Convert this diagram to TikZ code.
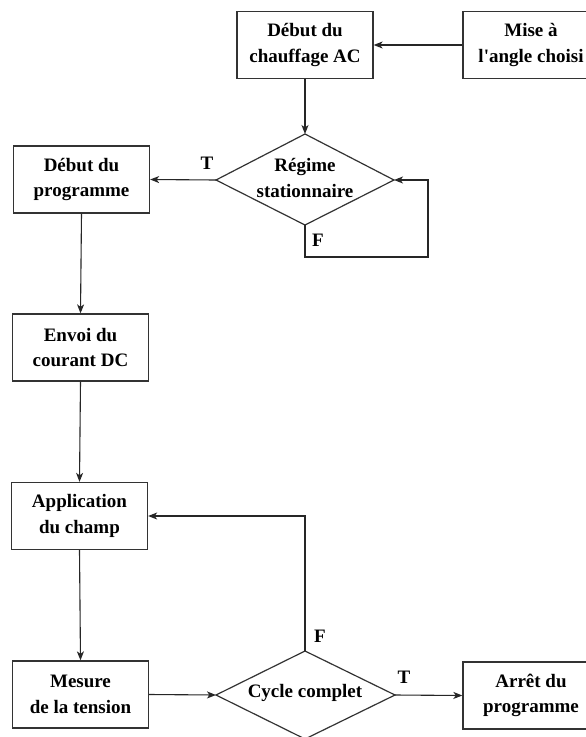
\documentclass[tikz,border=0pt]{standalone}
\usepackage{fontspec}
\setmainfont{Liberation Serif}[Ligatures=TeXOff]
\usetikzlibrary{arrows.meta}

\tikzset{
  stepbox/.style={draw=black!80, line width=1.3pt, rectangle, minimum width=136pt,
    minimum height=67pt, inner sep=0pt, align=center,
    font=\bfseries\fontsize{19}{25.5}\selectfont},
  decision/.style={draw=black!80, line width=1.2pt},
  decisiontext/.style={inner sep=0pt, align=center,
    font=\bfseries\fontsize{19}{25.5}\selectfont},
  flow/.style={draw=black!85, line width=1.1pt,
    -{Stealth[length=9pt,width=7pt,inset=2.5pt]}},
  branch/.style={font=\bfseries\fontsize{19}{22}\selectfont, inner sep=0pt}
}

\begin{document}
\begin{tikzpicture}[x=1pt, y=-1pt]
\useasboundingbox (0,0) rectangle (586,737);
\clip (0,0) rectangle (586,737);
\fill[white] (0,0) rectangle (586,737);

% process boxes
\node[stepbox] (chauffage) at (305,45) {Début du\\chauffage AC};
\node[stepbox] (mise) at (531,45) {Mise à\\l'angle choisi};
\node[stepbox] (prog) at (81.5,179.5) {Début du\\programme};
\node[stepbox] (envoi) at (80.5,347.5) {Envoi du\\courant DC};
\node[stepbox] (app) at (79.5,516) {Application\\du champ};
\node[stepbox] (mesure) at (80.5,694.5) {Mesure\\de la tension};
\node[stepbox] (arret) at (531,695.5) {Arrêt du\\programme};

% decision: steady state
\coordinate (regime-n) at (305,134);
\coordinate (regime-e) at (394,180);
\coordinate (regime-s) at (305,225);
\coordinate (regime-w) at (216,180);
\draw[decision] (regime-n) -- (regime-e) -- (regime-s) -- (regime-w) -- cycle;
\node[decisiontext] (regime) at (305,178) {Régime\\stationnaire};

% decision: full cycle
\coordinate (cycle-n) at (305,651);
\coordinate (cycle-e) at (395,695);
\coordinate (cycle-s) at (305,739);
\coordinate (cycle-w) at (216,695);
\draw[decision] (cycle-n) -- (cycle-e) -- (cycle-s) -- (cycle-w) -- cycle;
\node[decisiontext] (cycle) at (305,693) {Cycle complet};

% connectors
\draw[flow] (mise.west) -- (chauffage.east);
\draw[flow] (chauffage.south) -- (regime-n);
\draw[flow] (regime-w) -- (prog.east);
\coordinate (loop-a) at (305,257);
\coordinate (loop-b) at (428,257);
\coordinate (loop-c) at (428,180);
\draw[flow] (regime-s) -- (loop-a) -- (loop-b) -- (loop-c) -- (regime-e);
\draw[flow] (prog.south) -- (envoi.north);
\draw[flow] (envoi.south) -- (app.north);
\draw[flow] (app.south) -- (mesure.north);
\draw[flow] (mesure.east) -- (cycle-w);
\coordinate (back) at (305,516);
\draw[flow] (cycle-n) -- (back) -- (app.east);
\draw[flow] (cycle-e) -- (arret.west);

% branch labels
\node[branch] (t1) at (207,163) {T};
\node[branch] (f1) at (318,240) {F};
\node[branch] (f2) at (320,636) {F};
\node[branch] (t2) at (404,677) {T};
\end{tikzpicture}
\end{document}
